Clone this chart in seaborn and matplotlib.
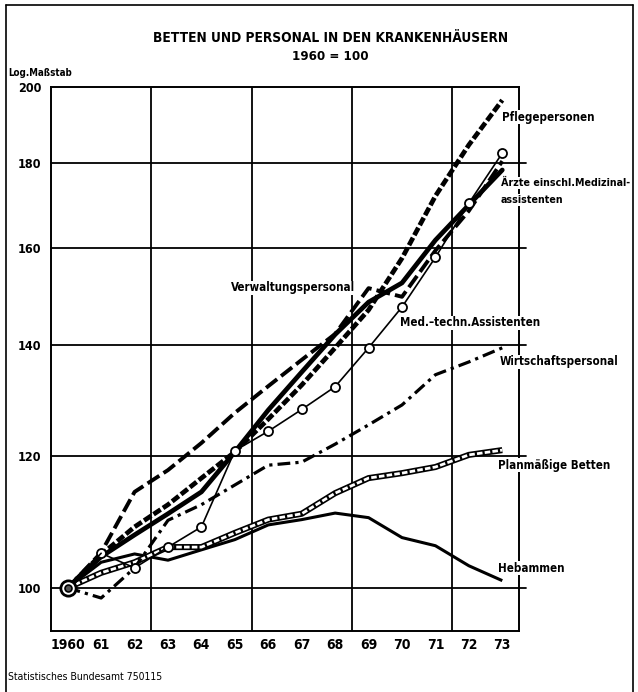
import numpy as np
import pandas as pd
import seaborn as sns
import matplotlib.pyplot as plt
from matplotlib.ticker import FixedLocator, FixedFormatter, NullLocator
from matplotlib.lines import Line2D

# Index values, 1960 = 100
years = list(range(1960, 1974))
pflege = [100, 104.7, 108.8, 112.2, 116.4, 120.7, 126.3, 132.4, 139.4, 146.9, 157.8, 172.0, 184.6, 196.4]
aerzte = [100, 104.4, 107.6, 110.8, 114.2, 120.7, 127.9, 134.8, 142.0, 148.5, 152.5, 161.8, 169.9, 178.3]
verwaltung = [100, 105.0, 114.2, 117.7, 122.2, 127.4, 132.2, 137.1, 142.1, 151.4, 149.6, 159.5, 168.5, 180.5]
medtech = [100, 104.9, 102.8, 105.8, 108.8, 120.9, 124.2, 128.0, 132.1, 139.4, 147.5, 158.0, 170.3, 182.5]
wirtschaft = [100, 98.6, 102.8, 109.8, 112.2, 115.3, 118.5, 119.0, 122.0, 125.3, 128.8, 134.3, 136.7, 139.4]
betten = [100, 102.1, 103.6, 105.8, 105.8, 107.9, 109.9, 110.8, 114.0, 116.4, 117.2, 118.2, 120.2, 121.0]
hebammen = [100, 103.6, 104.8, 103.9, 105.4, 106.9, 109.1, 109.9, 110.9, 110.2, 107.2, 106.0, 103.1, 101.0]

year_labels = ['1960', '61', '62', '63', '64', '65', '66', '67', '68', '69', '70', '71', '72', '73']
y_ticks = [100, 120, 140, 160, 180, 200]

sns.set_style('white')
plt.rcParams['font.family'] = ['DejaVu Sans']
plt.rcParams['font.stretch'] = 'condensed'
plt.rcParams['text.color'] = 'black'
plt.rcParams['xtick.color'] = 'black'
plt.rcParams['ytick.color'] = 'black'

W, H = 638, 692
fig = plt.figure(figsize=(W / 100, H / 100), dpi=100)


def fx(x):
    return x / W


def fy(y):
    return 1 - y / H


ax = fig.add_axes([fx(51), fy(631), (519 - 51) / W, (631 - 87) / H])

# series
sns.lineplot(x=years, y=hebammen, ax=ax, color='black', lw=2.2, solid_capstyle='butt')
sns.lineplot(x=years, y=betten, ax=ax, color='black', lw=4.4, solid_capstyle='butt')
sns.lineplot(x=years, y=betten, ax=ax, color='white', lw=2.0, linestyle=(0, (2.0, 0.8)),
             dash_capstyle='butt')
sns.lineplot(x=years, y=wirtschaft, ax=ax, color='black', lw=2.3,
             linestyle=(0, (4.0, 1.6, 1.0, 1.6)), dash_capstyle='butt')
sns.lineplot(x=years, y=verwaltung, ax=ax, color='black', lw=2.8,
             linestyle=(0, (3.6, 1.3)), dash_capstyle='butt')
sns.lineplot(x=years, y=pflege, ax=ax, color='black', lw=3.4,
             linestyle=(0, (1.8, 0.6)), dash_capstyle='butt')
sns.lineplot(x=years, y=aerzte, ax=ax, color='black', lw=3.4, solid_capstyle='round')
sns.lineplot(x=years[1:], y=medtech[1:], ax=ax, color='black', lw=1.2,
             marker='o', markersize=6.5, markerfacecolor='white',
             markeredgecolor='black', markeredgewidth=1.3)
sns.lineplot(x=years[:2], y=medtech[:2], ax=ax, color='black', lw=1.2)

# starting point 1960 = 100
ax.plot([years[0]], [100], marker='o', ms=11, mfc='white', mec='black', mew=2.0, zorder=6)
ax.plot([years[0]], [100], marker='o', ms=5, mfc='#555555', mec='black', mew=1.2, zorder=7)

ax.set_yscale('log')
ax.set_ylim(94.2, 200)
ax.set_xlim(1959.5, 1973.5)

ax.yaxis.set_major_locator(FixedLocator(y_ticks))
ax.yaxis.set_major_formatter(FixedFormatter([str(v) for v in y_ticks]))
ax.yaxis.set_minor_locator(NullLocator())
ax.tick_params(axis='y', which='major', length=3, width=1.2, direction='out', pad=4,
               labelsize=9)

bounds = np.arange(1959.5, 1974, 1.0)
ax.xaxis.set_major_locator(FixedLocator(bounds))
ax.xaxis.set_major_formatter(FixedFormatter([''] * len(bounds)))
ax.xaxis.set_minor_locator(FixedLocator(years))
ax.xaxis.set_minor_formatter(FixedFormatter(year_labels))
ax.tick_params(axis='x', which='major', length=7, width=1.2, direction='out')
ax.tick_params(axis='x', which='minor', length=0, pad=5, labelsize=10)
for lab in ax.get_xticklabels(minor=True) + ax.get_yticklabels():
    lab.set_fontweight('bold')

for sp in ax.spines.values():
    sp.set_color('black')
    sp.set_linewidth(1.4)

# grid
for v in y_ticks[:-1]:
    ax.axhline(v, xmin=0, xmax=1.015, color='black', lw=1.3, clip_on=False, zorder=1)
for b in [1962.5, 1965.5, 1968.5, 1971.5]:
    ax.axvline(b, color='black', lw=1.3, zorder=1)

# series labels
lab_kw = dict(fontsize=8.3, fontweight='bold', va='center', zorder=10,
              bbox=dict(facecolor='white', edgecolor='none', pad=0.6))
fig.text(fx(502), fy(117), 'Pflegepersonen', ha='left', **lab_kw)
fig.text(fx(355), fy(288), 'Verwaltungspersonal', ha='right', **lab_kw)
fig.text(fx(400), fy(323), 'Med.–techn.Assistenten', ha='left', **lab_kw)
fig.text(fx(500), fy(362), 'Wirtschaftspersonal', ha='left', **lab_kw)
fig.text(fx(498), fy(465), 'Planmäßige Betten', ha='left', **lab_kw)
fig.text(fx(498), fy(568), 'Hebammen', ha='left', **lab_kw)
lab_kw['fontsize'] = 7.7
fig.text(fx(501), fy(183), 'Ärzte einschl.Medizinal-', ha='left', **lab_kw)
fig.text(fx(501), fy(200), 'assistenten', ha='left', **lab_kw)

# titles and notes
fig.text(0.518, fy(38), 'BETTEN UND PERSONAL IN DEN KRANKENHÄUSERN', ha='center', va='center',
         fontsize=9.8, fontweight='bold')
fig.text(0.518, fy(57), '1960 = 100', ha='center', va='center', fontsize=9.5, fontweight='bold')
fig.text(fx(8), fy(73), 'Log.Maßstab', ha='left', va='center', fontsize=7, fontweight='bold')
fig.text(fx(8), fy(677), 'Statistisches Bundesamt 750115', ha='left', va='center', fontsize=7.5)

# outer frame
fig.add_artist(Line2D([fx(6), fx(6)], [0, fy(5)], color='black', lw=1.2))
fig.add_artist(Line2D([fx(6), fx(633)], [fy(5), fy(5)], color='black', lw=1.2))
fig.add_artist(Line2D([fx(633), fx(633)], [fy(5), 0], color='black', lw=1.2))

fig.savefig('out.png', dpi=100)
